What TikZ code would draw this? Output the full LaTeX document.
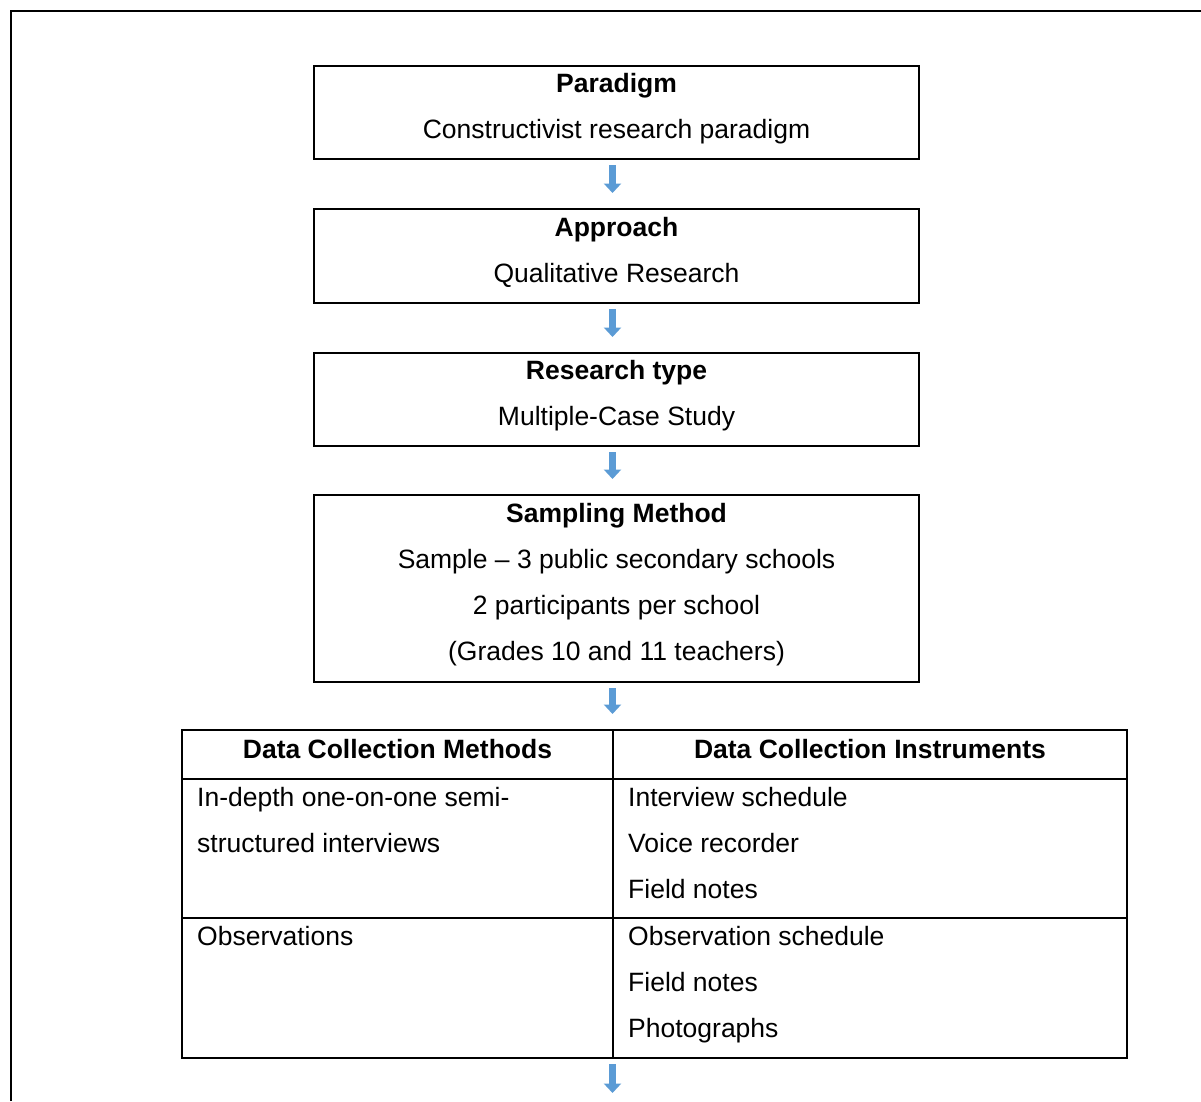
\documentclass[tikz,border=0pt]{standalone}
\usepackage{fontspec}
\setmainfont{Liberation Sans}
\usetikzlibrary{arrows.meta}
\definecolor{arrblue}{HTML}{5B9BD5}
\begin{document}
\begin{tikzpicture}[x=1pt,y=-1pt,
  every node/.style={font=\fontsize{26.5pt}{30pt}\selectfont},
  box/.style={draw, line width=2.4pt, minimum width=605pt, inner sep=0pt, outer sep=0pt},
  txt/.style={anchor=base, inner sep=0pt},
  ltxt/.style={anchor=base west, inner sep=0pt},
  ttl/.style={anchor=base, inner sep=0pt, font=\fontsize{26.5pt}{30pt}\selectfont\bfseries},
  arr/.style={draw=arrblue, line width=6.5pt, shorten <=6pt, shorten >=16pt,
    -{Triangle[width=17pt,length=9.5pt]}},
  tline/.style={line width=2pt}]
\useasboundingbox (0,0) rectangle (1201,1101);
\coordinate (frameA) at (11,1101);
\coordinate (frameB) at (11,11);
\coordinate (frameC) at (1201,11);
\draw[line width=2.4pt] (frameA) -- (frameB) -- (frameC);
\coordinate (ax) at (612.5,1093);
% boxes
\node[box, minimum height=93pt] (p1) at (616.5,112.5) {};
\node[box, minimum height=94pt] (p2) at (616.5,256) {};
\node[box, minimum height=93pt] (p3) at (616.5,399.5) {};
\node[box, minimum height=187pt] (p4) at (616.5,588.5) {};
\node[ttl] (p1a) at (616.5,92) {Paradigm};
\node[txt] (p1b) at (616.5,138) {Constructivist research paradigm};
\node[ttl] (p2a) at (616.5,236) {Approach};
\node[txt] (p2b) at (616.5,282) {Qualitative Research};
\node[ttl] (p3a) at (616.5,379) {Research type};
\node[txt] (p3b) at (616.5,425) {Multiple-Case Study};
\node[ttl] (p4a) at (616.5,522) {Sampling Method};
\node[txt] (p4b) at (616.5,568) {Sample -- 3 public secondary schools};
\node[txt] (p4c) at (616.5,614) {2 participants per school};
\node[txt] (p4d) at (616.5,660) {(Grades 10 and 11 teachers)};
% table
\node[draw, tline, minimum width=945pt, minimum height=328pt, inner sep=0pt, outer sep=0pt] (tbl) at (654.5,894) {};
\coordinate (c1) at (613,730);
\coordinate (c2) at (613,1058);
\coordinate (r1a) at (182,779);
\coordinate (r1b) at (1127,779);
\coordinate (r2a) at (182,918);
\coordinate (r2b) at (1127,918);
\draw[tline] (c1) -- (c2);
\draw[tline] (r1a) -- (r1b);
\draw[tline] (r2a) -- (r2b);
\node[ttl] (h1) at (397.5,758) {Data Collection Methods};
\node[ttl] (h2) at (870,758) {Data Collection Instruments};
\node[ltxt] (m1a) at (197,806) {In-depth one-on-one semi-};
\node[ltxt] (m1b) at (197,852) {structured interviews};
\node[ltxt] (i1a) at (628,806) {Interview schedule};
\node[ltxt] (i1b) at (628,852) {Voice recorder};
\node[ltxt] (i1c) at (628,898) {Field notes};
\node[ltxt] (m2a) at (197,945) {Observations};
\node[ltxt] (i2a) at (628,945) {Observation schedule};
\node[ltxt] (i2b) at (628,991) {Field notes};
\node[ltxt] (i2c) at (628,1037) {Photographs};
% arrows
\draw[arr] (p1.south -| ax) -- (p2.north -| ax);
\draw[arr] (p2.south -| ax) -- (p3.north -| ax);
\draw[arr] (p3.south -| ax) -- (p4.north -| ax);
\draw[arr] (p4.south -| ax) -- (tbl.north -| ax);
\draw[arr, shorten >=0pt] (tbl.south -| ax) -- (ax);
\end{tikzpicture}
\end{document}
